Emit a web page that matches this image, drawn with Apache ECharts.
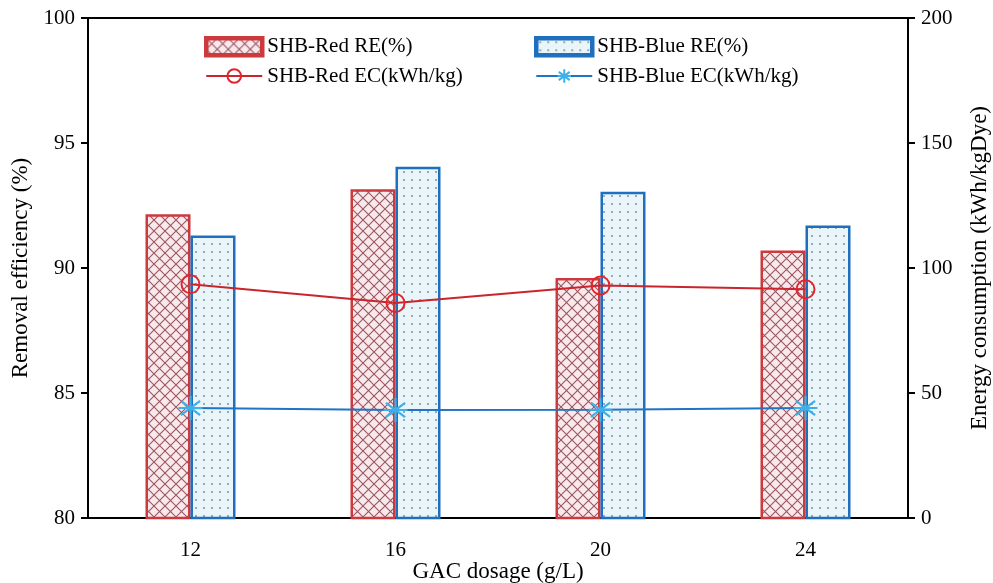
<!DOCTYPE html>
<html>
<head>
<meta charset="utf-8">
<script src="https://cdn.jsdelivr.net/npm/echarts@6/dist/echarts.min.js"></script>
<style>
  html, body { margin: 0; padding: 0; background: #fff; }
  #chart { width: 993px; height: 583px; }
</style>
</head>
<body>
<div id="chart"></div>
<script>
// data
var dosages = ['12', '16', '20', '24'];
var redRE = [92.15, 93.15, 89.6, 90.7];
var blueRE = [91.3, 94.05, 93.05, 91.7];
var redEC = [93.5, 86, 93, 91.5];
var blueEC = [44, 43.2, 43.3, 44];

var FONT = 'Liberation Serif';

// hatch fills
function redPattern() {
  var c = document.createElement('canvas');
  c.width = 11; c.height = 11;
  var g = c.getContext('2d');
  g.fillStyle = '#f9e9eb';
  g.fillRect(0, 0, 11, 11);
  g.strokeStyle = '#9a5563';
  g.lineWidth = 1.1;
  g.beginPath();
  g.moveTo(0, 0); g.lineTo(11, 11);
  g.moveTo(11, 0); g.lineTo(0, 11);
  g.stroke();
  return c;
}
function bluePattern() {
  var c = document.createElement('canvas');
  c.width = 8; c.height = 8;
  var g = c.getContext('2d');
  g.fillStyle = '#eaf5f9';
  g.fillRect(0, 0, 8, 8);
  g.fillStyle = '#97a9b2';
  g.fillRect(3, 3, 2, 2);
  return c;
}

var asterisk = 'path://M0,-10L0,10M-8,-6L8,6M-8,6L8,-6M-10,0L10,0';

var chart = echarts.init(document.getElementById('chart'));
var option = {
  animation: false,
  textStyle: { fontFamily: FONT },
  grid: {
    left: 88, right: 85, top: 18, bottom: 65,
    outerBoundsMode: 'none',
    show: true, borderColor: '#000', borderWidth: 2
  },
  legend: [
    {
      left: 199, top: 31, orient: 'vertical',
      itemWidth: 56, itemHeight: 17, itemGap: 8,
      textStyle: { fontFamily: FONT, fontSize: 21, color: '#000' },
      data: [
        { name: 'SHB-Red RE(%)', icon: 'rect', itemStyle: { borderWidth: 4.5 } },
        'SHB-Red EC(kWh/kg)'
      ]
    },
    {
      left: 529, top: 31, orient: 'vertical',
      itemWidth: 56, itemHeight: 17, itemGap: 8,
      textStyle: { fontFamily: FONT, fontSize: 21, color: '#000' },
      data: [
        { name: 'SHB-Blue RE(%)', icon: 'rect', itemStyle: { borderWidth: 4.5 } },
        'SHB-Blue EC(kWh/kg)'
      ]
    }
  ],
  xAxis: {
    type: 'category',
    data: dosages,
    axisTick: { show: false },
    axisLine: { lineStyle: { color: '#000', width: 2 } },
    axisLabel: { color: '#000', fontSize: 21, margin: 22, fontFamily: FONT },
    name: 'GAC dosage (g/L)',
    nameLocation: 'middle',
    nameMoveOverlap: false,
    nameGap: 42,
    nameTextStyle: { color: '#000', fontSize: 23, fontFamily: FONT }
  },
  yAxis: [
    {
      type: 'value', min: 80, max: 100, interval: 5,
      splitLine: { show: false },
      axisLine: { show: true, lineStyle: { color: '#000', width: 2 } },
      axisTick: { show: true, length: 7, lineStyle: { width: 2 } },
      axisLabel: { color: '#000', fontSize: 21, margin: 13, fontFamily: FONT },
      name: 'Removal efficiency (%)',
      nameLocation: 'middle',
      nameGap: 56,
      nameTextStyle: { color: '#000', fontSize: 23, fontFamily: FONT }
    },
    {
      type: 'value', min: 0, max: 200, interval: 50,
      splitLine: { show: false },
      axisLine: { show: true, lineStyle: { color: '#000', width: 2 } },
      axisTick: { show: true, length: 7, lineStyle: { width: 2 } },
      axisLabel: { color: '#000', fontSize: 21, margin: 13, fontFamily: FONT },
      name: 'Energy consumption (kWh/kgDye)',
      nameLocation: 'middle',
      nameGap: 60,
      nameTextStyle: { color: '#000', fontSize: 23, fontFamily: FONT }
    }
  ],
  series: [
    {
      name: 'SHB-Red RE(%)',
      type: 'bar',
      data: redRE,
      barWidth: 45,
      barGap: '0%',
      itemStyle: {
        color: { image: redPattern(), repeat: 'repeat' },
        borderColor: '#cc3a3e',
        borderWidth: 2.5
      }
    },
    {
      name: 'SHB-Blue RE(%)',
      type: 'bar',
      data: blueRE,
      barWidth: 45,
      barGap: '0%',
      itemStyle: {
        color: { image: bluePattern(), repeat: 'repeat' },
        borderColor: '#1f6fbf',
        borderWidth: 2.5
      }
    },
    {
      name: 'SHB-Red EC(kWh/kg)',
      type: 'line',
      yAxisIndex: 1,
      data: redEC,
      symbol: 'circle',
      symbolSize: 18,
      lineStyle: { color: '#c8262c', width: 2 },
      itemStyle: { color: 'rgba(0,0,0,0)', borderColor: '#e4242b', borderWidth: 2 },
      z: 5
    },
    {
      name: 'SHB-Blue EC(kWh/kg)',
      type: 'line',
      yAxisIndex: 1,
      data: blueEC,
      symbol: asterisk,
      symbolSize: 24,
      lineStyle: { color: '#1f74c4', width: 2 },
      itemStyle: { color: 'rgba(0,0,0,0)', borderColor: '#3bb0ea', borderWidth: 2.2 },
      z: 5
    }
  ]
};
chart.setOption(option);
</script>
</body>
</html>
